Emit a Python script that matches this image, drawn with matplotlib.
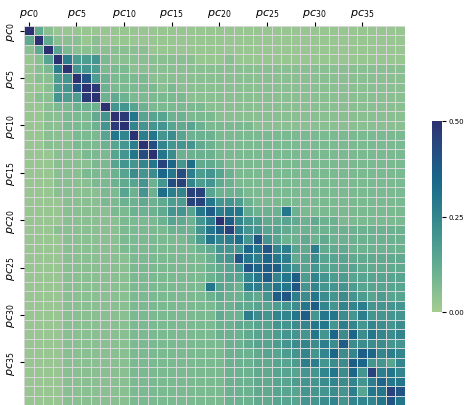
import numpy as np
import matplotlib
matplotlib.use("Agg")
import matplotlib.pyplot as plt
import seaborn as sns

N_PC = 40
PC_LABELS = [f"$pc_{{{i}}}$" for i in range(N_PC)]
TICK_EVERY = 5
CBAR_TICKS = [0.0, 0.25, 0.5]

# Lower triangle of the symmetric score matrix, one string per row.
# Each character is a base-36 digit counted in steps of STEP.
STEP = 0.025
LOWER = [
    "k",
    "5k",
    "25k",
    "126k",
    "123bk",
    "12278k",
    "11278gk",
    "122877jk",
    "11233444k",
    "112233358k",
    "112233348jk",
    "112223336cak",
    "11222333468bk",
    "11122233368chk",
    "111222233688aci",
    "11122233346989ec",
    "111222233456848hi",
    "11122222336484dbai",
    "11112222334454577ii",
    "111122222334445886cf",
    "1111222222333346548bk",
    "1112222222333334448cfi",
    "1111222222333333347cabd",
    "11112222223333333345888e",
    "1111222222233333333478gcb",
    "11112222222333333334568gef",
    "11112222222333333334566acfa",
    "1111222222233333333c654bbacc",
    "111122222223333333345446 58fgb".replace(" ", ""),
    "1111222222233333333344556 6789cf".replace(" ", ""),
    "11112222222333333333544b9 8aacf8".replace(" ", ""),
    "1111222222233333333344556 6889acca".replace(" ", ""),
    "1111222222233333333344456 67888c8e6".replace(" ", ""),
    "1111222222233333333334456 678 9a9b9ff".replace(" ", ""),
    "1111222222233333333334445 667 8a8ae9ab".replace(" ", ""),
    "1111222222233333333334445 566 7bb899fe".replace(" ", ""),
    "1111222222233333333334445 566 688ac9e8i".replace(" ", ""),
    "1111222222233333333334445 566 7889a9a8bee".replace(" ", ""),
    "1111222222233333333334445 566 68889 8b6cci".replace(" ", ""),
    "1111222222233333333334445 566 6889a8aaacgc".replace(" ", ""),
]


def build_matrix():
    m = np.zeros((N_PC, N_PC))
    for i, row in enumerate(LOWER):
        for j, ch in enumerate(row):
            m[i, j] = m[j, i] = int(ch, 36) * STEP
    return m


def main():
    scores = build_matrix()

    fig = plt.figure(figsize=(4.69, 4.06), dpi=100)
    ax = fig.add_axes([24 / 469, 0, 381 / 469, 379 / 406])
    cax = fig.add_axes([432 / 469, 1 - 313 / 406, 10 / 469, 191 / 406])

    sns.heatmap(scores, ax=ax, cbar_ax=cax, cmap="crest", vmin=0, vmax=0.5,
                linewidths=0.45, linecolor="#d6d6d6")

    ticks = np.arange(0, N_PC, TICK_EVERY) + 0.5
    ax.xaxis.tick_top()
    ax.set_xticks(ticks)
    ax.set_xticklabels(PC_LABELS[::TICK_EVERY], rotation=0, fontsize=8)
    ax.set_yticks(ticks)
    ax.set_yticklabels(PC_LABELS[::TICK_EVERY], rotation=90, va="center", fontsize=8)
    ax.tick_params(length=3, width=0.8, pad=2)

    cax.set_yticks(CBAR_TICKS)
    cax.set_yticklabels([f"{t:.2f}" for t in CBAR_TICKS], fontsize=5)
    cax.tick_params(length=3, width=0.8, pad=2)

    fig.savefig("out.png", dpi=100)
    plt.close(fig)


if __name__ == "__main__":
    main()
